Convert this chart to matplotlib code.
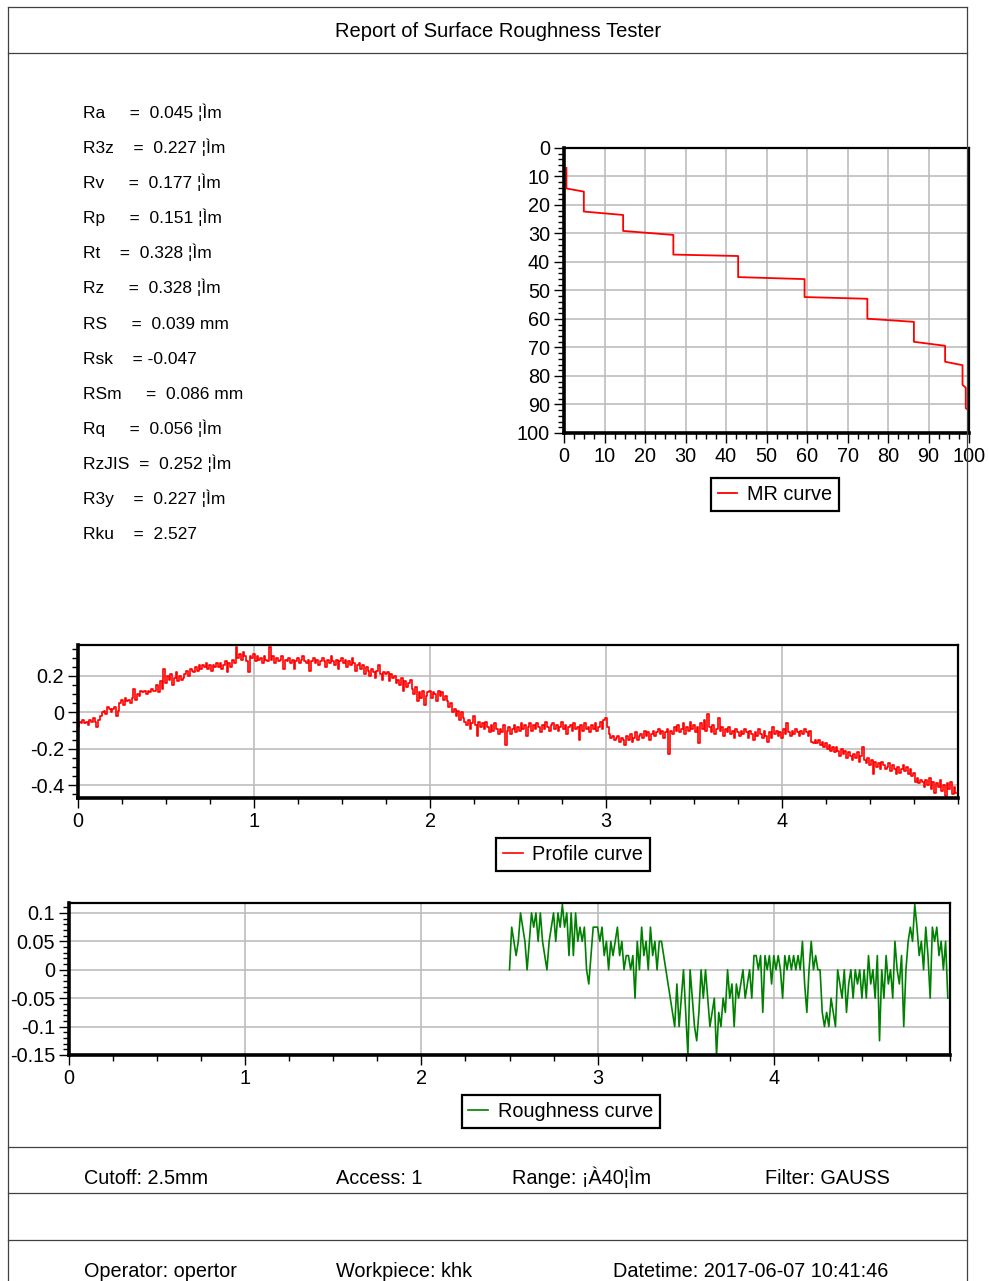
import numpy as np
import matplotlib
matplotlib.use("Agg")
import matplotlib.pyplot as plt
from matplotlib.lines import Line2D
from matplotlib.ticker import MultipleLocator, FuncFormatter

plt.rcParams["font.family"] = ["Liberation Sans", "DejaVu Sans"]

# ---- report texts ----
title = "Report of Surface Roughness Tester"

param_lines = [
    "Ra     =  0.045 ¦Ìm",
    "R3z    =  0.227 ¦Ìm",
    "Rv     =  0.177 ¦Ìm",
    "Rp     =  0.151 ¦Ìm",
    "Rt    =  0.328 ¦Ìm",
    "Rz     =  0.328 ¦Ìm",
    "RS     =  0.039 mm",
    "Rsk    = -0.047",
    "RSm     =  0.086 mm",
    "Rq     =  0.056 ¦Ìm",
    "RzJIS  =  0.252 ¦Ìm",
    "R3y    =  0.227 ¦Ìm",
    "Rku    =  2.527",
]

info_row1 = ["Cutoff: 2.5mm", "Access: 1", "Range: ¡À40¦Ìm", "Filter: GAUSS"]
info_row2 = ["Operator: opertor", "Workpiece: khk", "Datetime: 2017-06-07 10:41:46"]

# ---- MR curve (material ratio %, depth %) ----
mr_x = [0.6, 0.6, 4.9, 4.9, 14.6, 14.6, 27.0, 27.0, 43.0, 43.0, 59.4, 59.4,
        74.9, 74.9, 86.4, 86.4, 94.1, 94.1, 98.4, 98.4, 99.2, 99.2, 99.8, 99.8]
mr_y = [7.0, 14.2, 15.3, 22.3, 23.5, 29.1, 30.5, 37.4, 37.9, 45.3, 46.0, 52.3,
        52.9, 59.9, 61.0, 68.0, 69.4, 75.0, 76.2, 83.1, 84.1, 91.3, 91.9, 99.4]

# ---- profile curve (mm, um), sampled every 0.01 mm ----
profile_x0 = 0.0
profile_dx = 0.01
profile_vals = [
    -0.08, -0.05, -0.06, -0.04, -0.06, -0.05, -0.07, -0.04, -0.05, -0.03,
    -0.05, -0.08, -0.04, -0.02, 0.00, 0.01, -0.01, 0.03, 0.02, 0.00,
    0.02, 0.03, -0.02, 0.01, 0.05, 0.07, 0.04, 0.08, 0.06, 0.07,
    0.05, 0.08, 0.13, 0.07, 0.10, 0.09, 0.12, 0.11, 0.12, 0.10,
    0.12, 0.11, 0.13, 0.12, 0.12, 0.15, 0.11, 0.17, 0.13, 0.24,
    0.16, 0.20, 0.18, 0.21, 0.15, 0.19, 0.22, 0.17, 0.20, 0.18,
    0.19, 0.21, 0.23, 0.20, 0.24, 0.23, 0.22, 0.25, 0.23, 0.26,
    0.24, 0.26, 0.25, 0.27, 0.24, 0.26, 0.23, 0.26, 0.25, 0.27,
    0.25, 0.27, 0.24, 0.26, 0.28, 0.22, 0.27, 0.25, 0.29, 0.27,
    0.36, 0.30, 0.32, 0.29, 0.33, 0.31, 0.28, 0.22, 0.31, 0.30,
    0.32, 0.28, 0.31, 0.29, 0.30, 0.27, 0.31, 0.29, 0.28, 0.36,
    0.29, 0.31, 0.27, 0.30, 0.28, 0.29, 0.31, 0.24, 0.29, 0.28,
    0.30, 0.27, 0.29, 0.24, 0.28, 0.30, 0.27, 0.29, 0.31, 0.28,
    0.27, 0.29, 0.23, 0.28, 0.30, 0.27, 0.29, 0.26, 0.28, 0.30,
    0.28, 0.25, 0.29, 0.27, 0.31, 0.28, 0.26, 0.29, 0.24, 0.28,
    0.30, 0.27, 0.29, 0.25, 0.28, 0.26, 0.30, 0.27, 0.23, 0.26,
    0.27, 0.24, 0.26, 0.21, 0.25, 0.23, 0.20, 0.24, 0.22, 0.19,
    0.23, 0.26, 0.21, 0.18, 0.22, 0.21, 0.22, 0.17, 0.21, 0.19,
    0.20, 0.16, 0.18, 0.15, 0.19, 0.12, 0.17, 0.14, 0.16, 0.18,
    0.13, 0.10, 0.14, 0.06, 0.11, 0.08, 0.12, 0.04, 0.09, 0.11,
    0.12, 0.08, 0.11, 0.10, 0.06, 0.12, 0.09, 0.11, 0.07, 0.09,
    0.06, 0.03, 0.05, 0.00, 0.02, -0.02, 0.01, -0.04, 0.00, -0.03,
    -0.05, -0.07, -0.04, -0.09, -0.06, -0.02, -0.07, -0.13, -0.05, -0.08,
    -0.06, -0.09, -0.05, -0.08, -0.11, -0.07, -0.10, -0.06, -0.09, -0.12,
    -0.09, -0.11, -0.07, -0.18, -0.10, -0.08, -0.12, -0.09, -0.07, -0.11,
    -0.08, -0.10, -0.06, -0.09, -0.07, -0.13, -0.08, -0.06, -0.10, -0.07,
    -0.09, -0.06, -0.08, -0.11, -0.07, -0.09, -0.05, -0.08, -0.10, -0.07,
    -0.06, -0.09, -0.07, -0.10, -0.08, -0.05, -0.09, -0.07, -0.12, -0.08,
    -0.07, -0.10, -0.06, -0.09, -0.08, -0.15, -0.07, -0.10, -0.06, -0.09,
    -0.08, -0.11, -0.07, -0.09, -0.06, -0.10, -0.08, -0.05, -0.09, -0.04,
    -0.03, -0.08, -0.12, -0.14, -0.13, -0.15, -0.14, -0.13, -0.16, -0.14,
    -0.15, -0.18, -0.13, -0.15, -0.12, -0.16, -0.14, -0.11, -0.15, -0.13,
    -0.12, -0.14, -0.10, -0.13, -0.11, -0.15, -0.12, -0.10, -0.13, -0.11,
    -0.09, -0.12, -0.10, -0.14, -0.11, -0.09, -0.23, -0.10, -0.12, -0.08,
    -0.10, -0.07, -0.11, -0.09, -0.06, -0.12, -0.08, -0.10, -0.05, -0.09,
    -0.07, -0.11, -0.08, -0.17, -0.06, -0.09, -0.04, -0.10, -0.01, -0.08,
    -0.11, -0.07, -0.12, -0.09, -0.03, -0.10, -0.08, -0.13, -0.09, -0.11,
    -0.08, -0.12, -0.10, -0.14, -0.09, -0.11, -0.13, -0.10, -0.12, -0.09,
    -0.11, -0.14, -0.10, -0.12, -0.15, -0.11, -0.13, -0.09, -0.12, -0.14,
    -0.10, -0.13, -0.16, -0.11, -0.14, -0.08, -0.12, -0.10, -0.13, -0.11,
    -0.14, -0.09, -0.12, -0.06, -0.11, -0.13, -0.10, -0.12, -0.09, -0.11,
    -0.13, -0.10, -0.12, -0.09, -0.11, -0.13, -0.10, -0.16, -0.17, -0.15,
    -0.17, -0.15, -0.18, -0.16, -0.19, -0.17, -0.20, -0.18, -0.21, -0.19,
    -0.22, -0.19, -0.21, -0.24, -0.20, -0.23, -0.21, -0.25, -0.22, -0.24,
    -0.26, -0.23, -0.25, -0.22, -0.27, -0.24, -0.19, -0.26, -0.28, -0.25,
    -0.29, -0.26, -0.34, -0.27, -0.30, -0.28, -0.31, -0.27, -0.29, -0.31,
    -0.30, -0.28, -0.32, -0.29, -0.31, -0.34, -0.30, -0.33, -0.31, -0.29,
    -0.32, -0.30, -0.34, -0.31, -0.35, -0.33, -0.38, -0.36, -0.39, -0.37,
    -0.38, -0.41, -0.37, -0.40, -0.36, -0.42, -0.38, -0.44, -0.39, -0.41,
    -0.37, -0.43, -0.40, -0.46, -0.39, -0.42, -0.38, -0.45, -0.41, -0.44,
]

# ---- roughness curve (mm, um), sampled every 0.0125 mm from 2.5 ----
rough_x0 = 2.5
rough_dx = 0.0125
rough_vals = [
    0.0, 0.075, 0.05, 0.025, 0.05, 0.1, 0.075, 0.05,
    0.0, 0.05, 0.1, 0.075, 0.1, 0.05, 0.1, 0.05,
    0.025, 0.0, 0.05, 0.075, 0.1, 0.05, 0.1, 0.075,
    0.115, 0.075, 0.1, 0.025, 0.1, 0.025, 0.1, 0.05,
    0.075, 0.05, 0.075, 0.0, -0.025, 0.025, 0.075, 0.075,
    0.075, 0.05, 0.075, 0.025, 0.05, 0.0, 0.05, 0.025,
    0.05, 0.075, 0.025, 0.05, 0.0, 0.025, 0.025, 0.0,
    0.025, -0.05, 0.05, 0.0, 0.075, 0.025, 0.05, 0.0,
    0.075, 0.025, 0.05, 0.0, 0.05, 0.05, 0.025, 0.0,
    -0.025, -0.05, -0.075, -0.1, -0.025, -0.1, -0.05, 0.0,
    -0.075, -0.15, 0.0, -0.05, -0.1, -0.125, -0.075, 0.0,
    -0.05, 0.0, -0.05, -0.1, -0.075, -0.05, -0.15, -0.075,
    -0.1, -0.05, -0.075, 0.0, -0.05, -0.025, -0.1, -0.025,
    -0.05, -0.025, 0.0, -0.05, -0.025, 0.0, -0.05, 0.025,
    0.025, 0.0, 0.025, -0.075, 0.025, 0.0, 0.025, -0.025,
    0.025, 0.0, 0.025, 0.0, -0.05, 0.025, 0.0, 0.025,
    0.0, 0.025, 0.0, 0.025, 0.0, 0.05, -0.025, -0.075,
    0.0, 0.05, 0.0, 0.025, 0.0, 0.0, -0.075, -0.1,
    -0.075, -0.1, -0.05, -0.075, -0.1, 0.0, -0.025, -0.05,
    0.0, -0.075, -0.025, 0.0, -0.05, 0.0, -0.025, 0.0,
    -0.05, 0.0, -0.05, 0.025, -0.025, 0.0, -0.05, 0.025,
    -0.125, 0.0, -0.05, 0.025, -0.025, 0.0, -0.05, 0.05,
    0.0, -0.025, 0.025, -0.1, 0.0, 0.05, 0.075, 0.05,
    0.115, 0.075, 0.025, 0.05, 0.0, 0.075, 0.025, -0.05,
    0.075, 0.05, 0.075, 0.025, 0.05, 0.0, 0.05, -0.05,
]

W, H = 989, 1281
fig = plt.figure(figsize=(W / 100, H / 100), dpi=100)


def fx(px):
    return px / W


def fy(py):
    return 1 - py / H


# ---- page frame ----
frame_kw = dict(color="#404040", lw=0.9, transform=fig.transFigure)
for yy in [7, 53, 1147, 1193, 1240]:
    fig.add_artist(Line2D([fx(8), fx(967)], [fy(yy), fy(yy)], **frame_kw))
fig.add_artist(Line2D([fx(8), fx(8)], [fy(7), 0], **frame_kw))
fig.add_artist(Line2D([fx(967), fx(967)], [fy(7), 0], **frame_kw))

fig.text(fx(498), fy(37), title, ha="center", va="baseline", fontsize=14.5)

for i, s in enumerate(param_lines):
    fig.text(fx(83), fy(118 + i * 35.1), s, ha="left", va="baseline", fontsize=12.5)

for s, px in zip(info_row1, [84, 336, 512, 765]):
    fig.text(fx(px), fy(1184), s, ha="left", va="baseline", fontsize=14.3)
for s, px in zip(info_row2, [84, 336, 613]):
    fig.text(fx(px), fy(1277), s, ha="left", va="baseline", fontsize=14.3)


def style_axes(ax):
    ax.grid(True, which="major", color="#bdbdbd", lw=1.2)
    ax.set_axisbelow(True)
    for side in ["left", "bottom"]:
        ax.spines[side].set_linewidth(2.6)
    for side in ["top", "right"]:
        ax.spines[side].set_linewidth(1.6)
    ax.tick_params(which="major", length=7, width=1.0, labelsize=14.3, pad=3)
    ax.tick_params(which="minor", length=4, width=1.0)


def add_axes_px(left, top, right, bottom):
    return fig.add_axes([fx(left), fy(bottom), (right - left) / W, (bottom - top) / H])


def add_legend(ax, cx, top):
    leg = ax.legend(loc="upper center", bbox_to_anchor=(fx(cx), fy(top)),
                    bbox_transform=fig.transFigure, borderaxespad=0, fontsize=14.3,
                    fancybox=False, edgecolor="black", framealpha=1,
                    handlelength=1.0, handletextpad=0.5, borderpad=0.35)
    leg.get_frame().set_linewidth(1.6)


# ---- MR curve ----
ax_mr = add_axes_px(564, 148, 969, 433)
ax_mr.plot(mr_x, mr_y, color="red", lw=1.3, label="MR curve")
ax_mr.set_xlim(0, 100)
ax_mr.set_ylim(100, 0)
ax_mr.xaxis.set_major_locator(MultipleLocator(10))
ax_mr.xaxis.set_minor_locator(MultipleLocator(2.5))
ax_mr.yaxis.set_major_locator(MultipleLocator(10))
ax_mr.yaxis.set_minor_locator(MultipleLocator(2))
style_axes(ax_mr)
add_legend(ax_mr, 775, 478)

# ---- profile curve ----
px_arr = profile_x0 + profile_dx * np.arange(len(profile_vals))
ax_p = add_axes_px(78, 645, 958, 798)
ax_p.plot(px_arr, profile_vals, color="red", lw=1.2, drawstyle="steps-mid",
          label="Profile curve")
ax_p.set_xlim(0, 5.0)
ax_p.set_ylim(-0.47, 0.37)
ax_p.xaxis.set_major_locator(MultipleLocator(1))
ax_p.xaxis.set_minor_locator(MultipleLocator(0.25))
ax_p.yaxis.set_major_locator(MultipleLocator(0.2))
ax_p.yaxis.set_minor_locator(MultipleLocator(0.05))
ax_p.yaxis.set_major_formatter(FuncFormatter(lambda v, p: f"{round(v, 3):g}"))
style_axes(ax_p)
ax_p.set_xticks([0, 1, 2, 3, 4])
add_legend(ax_p, 573, 838)

# ---- roughness curve ----
rx_arr = rough_x0 + rough_dx * np.arange(len(rough_vals))
ax_r = add_axes_px(69, 903, 950, 1055)
ax_r.plot(rx_arr, rough_vals, color="green", lw=1.2, label="Roughness curve")
ax_r.set_xlim(0, 5.0)
ax_r.set_ylim(-0.15, 0.1175)
ax_r.xaxis.set_major_locator(MultipleLocator(1))
ax_r.xaxis.set_minor_locator(MultipleLocator(0.25))
ax_r.yaxis.set_major_locator(MultipleLocator(0.05))
ax_r.yaxis.set_minor_locator(MultipleLocator(0.01))
ax_r.yaxis.set_major_formatter(FuncFormatter(lambda v, p: f"{round(v, 3):g}"))
style_axes(ax_r)
ax_r.set_xticks([0, 1, 2, 3, 4])
add_legend(ax_r, 561, 1095)

fig.savefig("out.png", dpi=100)
